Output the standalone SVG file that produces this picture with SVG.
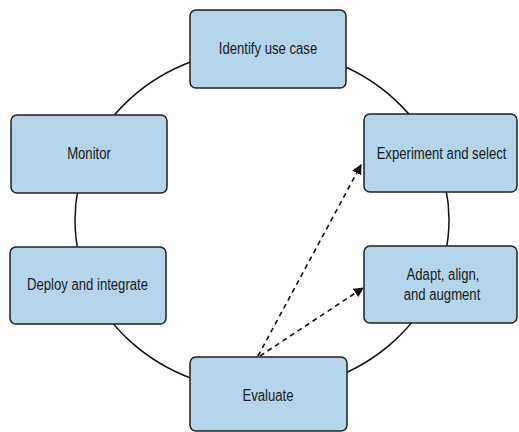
<svg xmlns="http://www.w3.org/2000/svg" width="519" height="432" viewBox="0 0 519 432">
  <style>
    .box { fill: #b4d5ea; stroke: #1f1f1f; stroke-width: 1.5; }
    .lbl { font-family: "Liberation Sans", "DejaVu Sans", sans-serif; font-size: 16px; fill: #1a1a1a; text-anchor: middle; }
    .cycle { fill: none; stroke: #111; stroke-width: 1.5; }
    .dash { fill: none; stroke: #111; stroke-width: 1.6; stroke-dasharray: 5 4; }
  </style>
  <defs>
    <marker id="arrow" viewBox="0 0 10 10" refX="9" refY="5" markerWidth="10" markerHeight="10" markerUnits="userSpaceOnUse" orient="auto">
      <path d="M0,0 L10,5 L0,10 z" fill="#111"/>
    </marker>
  </defs>
  <rect width="519" height="432" fill="#ffffff"/>

  <g id="connectors">
    <ellipse class="cycle" cx="262" cy="220" rx="187" ry="171"/>
    <line class="dash" x1="258" y1="356" x2="361" y2="165" marker-end="url(#arrow)"/>
    <line class="dash" x1="260" y1="356" x2="363" y2="288" marker-end="url(#arrow)"/>
  </g>

  <!-- labels are narrowed horizontally to a condensed look -->
  <g id="identify">
    <rect class="box" x="190" y="10" width="156" height="78" rx="6"/>
    <text class="lbl" transform="translate(268 54) scale(0.82 1)">Identify use case</text>
  </g>
  <g id="experiment">
    <rect class="box" x="364" y="114" width="153" height="78" rx="6"/>
    <text class="lbl" transform="translate(441.5 159) scale(0.82 1)">Experiment and select</text>
  </g>
  <g id="adapt">
    <rect class="box" x="364" y="246" width="153" height="77" rx="6"/>
    <text class="lbl" transform="translate(443 280) scale(0.82 1)">Adapt, align,</text>
    <text class="lbl" transform="translate(442 300) scale(0.82 1)">and augment</text>
  </g>
  <g id="evaluate">
    <rect class="box" x="190" y="357" width="157" height="74" rx="6"/>
    <text class="lbl" transform="translate(268 401) scale(0.82 1)">Evaluate</text>
  </g>
  <g id="deploy">
    <rect class="box" x="10" y="247" width="156" height="77" rx="6"/>
    <text class="lbl" transform="translate(87.5 290) scale(0.82 1)">Deploy and integrate</text>
  </g>
  <g id="monitor">
    <rect class="box" x="11" y="115" width="156" height="78" rx="6"/>
    <text class="lbl" transform="translate(89 159) scale(0.82 1)">Monitor</text>
  </g>
</svg>
